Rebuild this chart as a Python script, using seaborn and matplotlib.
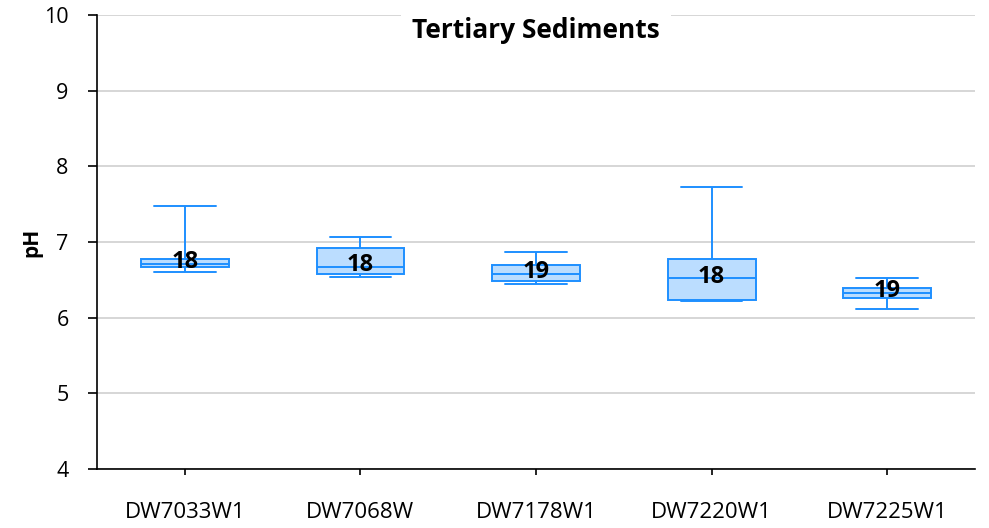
import matplotlib
matplotlib.use("Agg")
import matplotlib.pyplot as plt
import seaborn as sns
import pandas as pd

sites = ["DW7033W1", "DW7068W", "DW7178W1", "DW7220W1", "DW7225W1"]
ph_min = [6.61, 6.54, 6.45, 6.22, 6.11]
ph_q1 = [6.67, 6.58, 6.48, 6.23, 6.26]
ph_med = [6.71, 6.67, 6.58, 6.52, 6.33]
ph_q3 = [6.77, 6.92, 6.69, 6.78, 6.39]
ph_max = [7.47, 7.06, 6.87, 7.73, 6.53]
counts = [18, 18, 19, 18, 19]

rows = []
for i, s in enumerate(sites):
    for v in (ph_min[i], ph_q1[i], ph_med[i], ph_q3[i], ph_max[i]):
        rows.append({"site": s, "pH": v})
df = pd.DataFrame(rows)

sns.set_style("white")
plt.rcParams["font.family"] = ["Open Sans", "DejaVu Sans"]
plt.rcParams["text.color"] = "black"
plt.rcParams["xtick.color"] = "black"
plt.rcParams["ytick.color"] = "black"
plt.rcParams["axes.labelcolor"] = "black"

fig = plt.figure(figsize=(9.89, 5.28), dpi=100)
ax = fig.add_axes([97 / 989, 1 - 469 / 528, 878 / 989, 454 / 528])

edge = "#1E8FFF"
sns.boxplot(data=df, x="site", y="pH", order=sites, whis=(0, 100), width=0.5,
            color="#BBDDFF", linewidth=1.4, ax=ax, zorder=3,
            boxprops=dict(facecolor="#BBDDFF", edgecolor=edge),
            whiskerprops=dict(color=edge), capprops=dict(color=edge),
            medianprops=dict(color=edge), showfliers=False)

# narrower caps
for line in ax.lines:
    xd = line.get_xdata()
    yd = line.get_ydata()
    if len(xd) == 2 and yd[0] == yd[1] and abs((xd[1] - xd[0])) < 0.3:
        c = (xd[0] + xd[1]) / 2
        line.set_xdata([c - 0.175, c + 0.175])

for i, n in enumerate(counts):
    ax.text(i, ph_med[i] + 0.02, str(n), ha="center", va="center", fontsize=17,
            fontweight="bold", color="black", zorder=5)

ax.set_ylim(4, 10)
ax.set_xlim(-0.5, 4.5)
ax.set_yticks(range(4, 11))
ax.yaxis.grid(True, color="#D0D0D0", linewidth=1.2, zorder=0)
ax.set_axisbelow(True)
for sp in ["top", "right"]:
    ax.spines[sp].set_visible(False)
for sp in ["left", "bottom"]:
    ax.spines[sp].set_color("black")
    ax.spines[sp].set_linewidth(1.2)
ax.tick_params(axis="y", which="both", left=True, length=6.5, width=1.2,
               direction="out", labelsize=15.5, pad=14, color="black")
ax.tick_params(axis="x", which="both", bottom=True, length=4, width=1.2,
               direction="out", labelsize=16, pad=20, color="black")
ax.set_xlabel("")
ax.set_ylabel("pH", fontsize=15, fontweight="bold", labelpad=1)

ax.text(0.5, 0.965, "Tertiary Sediments", transform=ax.transAxes, ha="center",
        va="center", fontsize=19, fontweight="bold", zorder=6,
        bbox=dict(facecolor="white", edgecolor="none", pad=8))

fig.savefig("out.png", dpi=100)
